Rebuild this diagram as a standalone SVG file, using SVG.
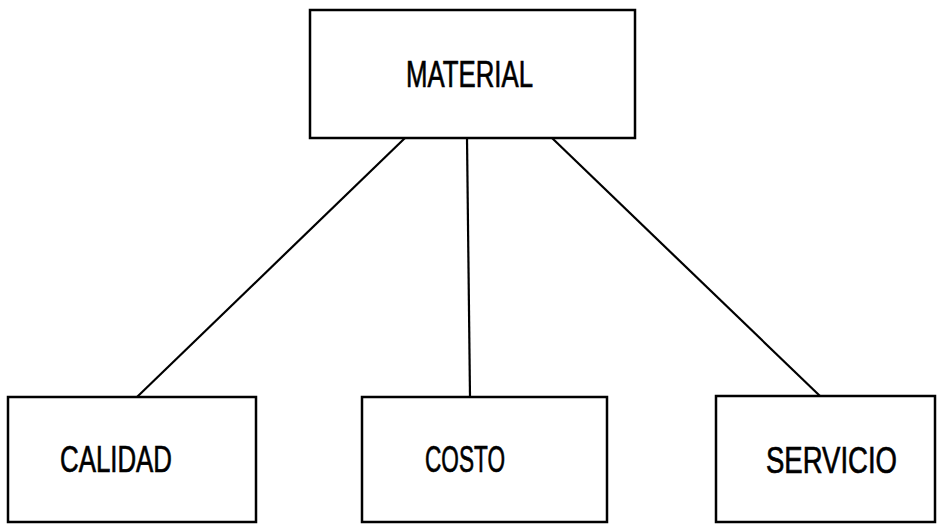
<svg xmlns="http://www.w3.org/2000/svg" width="938" height="524" viewBox="0 0 938 524">
<style>
.box{fill:#fff;stroke:#000;stroke-width:2.5}
.lbl{font-family:"Liberation Sans",Arial,sans-serif;font-size:27.5px;fill:#000;stroke:#000;stroke-width:0.5}
.con{stroke:#000;stroke-width:2.2;fill:none}
</style>
<rect width="938" height="524" fill="#fff"/>
<g id="connectors">
<line class="con" x1="405" y1="138" x2="137" y2="397"/>
<line class="con" x1="467" y1="138" x2="470" y2="397"/>
<line class="con" x1="552" y1="138" x2="820" y2="396"/>
</g>
<g id="material">
<rect class="box" x="310" y="10" width="325" height="128"/>
<text class="lbl" transform="scale(1,1.35)" x="406" y="64.44" textLength="127" lengthAdjust="spacingAndGlyphs">MATERIAL</text>
</g>
<g id="calidad">
<rect class="box" x="8" y="397" width="248" height="125"/>
<text class="lbl" transform="scale(1,1.35)" x="60" y="349.63" textLength="112" lengthAdjust="spacingAndGlyphs">CALIDAD</text>
</g>
<g id="costo">
<rect class="box" x="362" y="397" width="245" height="125"/>
<text class="lbl" transform="scale(1,1.35)" x="425" y="349.63" textLength="80" lengthAdjust="spacingAndGlyphs">COSTO</text>
</g>
<g id="servicio">
<rect class="box" x="716" y="396" width="219" height="126"/>
<text class="lbl" transform="scale(1,1.35)" x="766" y="350.37" textLength="131" lengthAdjust="spacingAndGlyphs">SERVICIO</text>
</g>
</svg>
